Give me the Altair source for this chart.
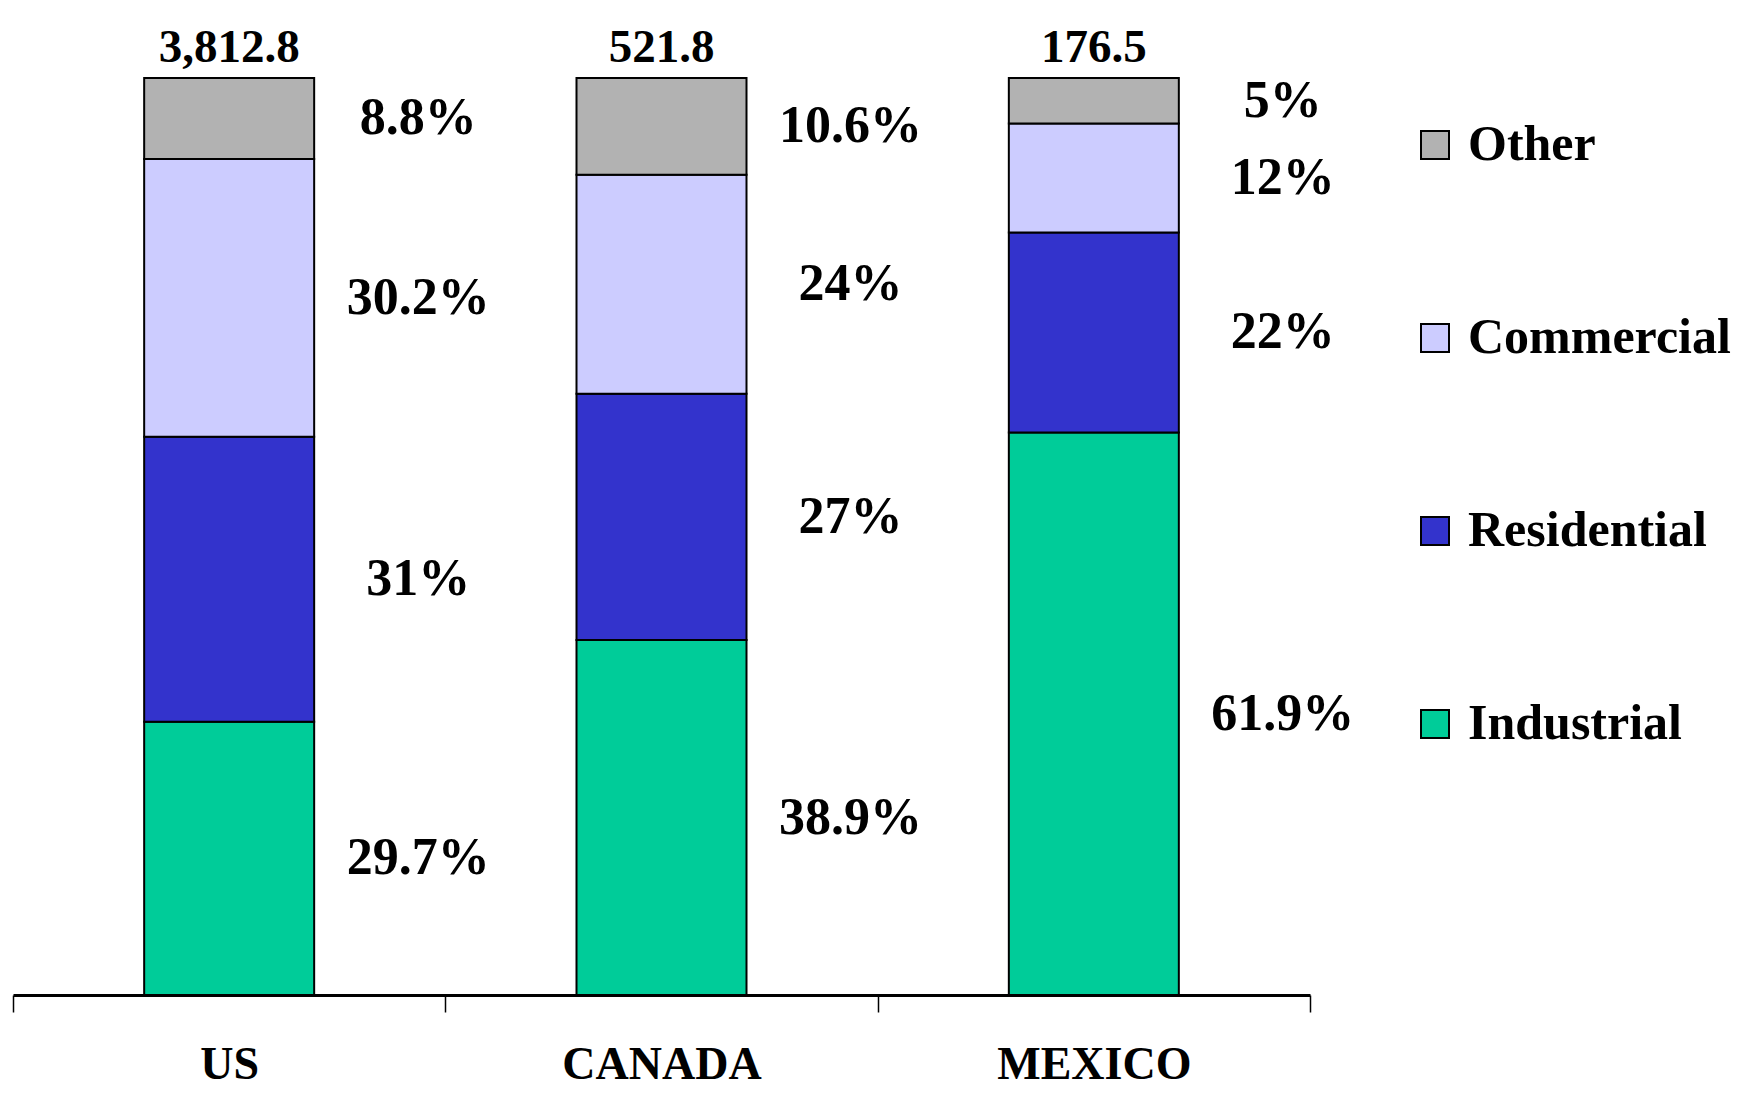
import altair as alt
import pandas as pd

countries = ["US", "CANADA", "MEXICO"]
totals = [3812.8, 521.8, 176.5]
sectors = ["Industrial", "Residential", "Commercial", "Other"]
industrial = [29.7, 38.9, 61.9]
residential = [31, 27, 22]
commercial = [30.2, 24, 12]
other = [8.8, 10.6, 5]
colors = ["#00CC99", "#3333CC", "#CCCCFF", "#B2B2B2"]

rows = []
for i, c in enumerate(countries):
    for k, (s, vals) in enumerate(zip(sectors, [industrial, residential, commercial, other])):
        rows.append({"country": c, "sector": s, "pct": vals[i], "order": k, "total": totals[i]})
df = pd.DataFrame(rows)
tot_df = pd.DataFrame({"country": countries, "total": totals})

FONT = "Liberation Serif"

x = alt.X("country:N", sort=countries, title=None,
          scale=alt.Scale(paddingInner=0, paddingOuter=0),
          axis=alt.Axis(labelAngle=0, labelFont=FONT, labelFontWeight="bold",
                        labelFontSize=46, labelColor="black", labelPadding=30,
                        labelLimit=0,
                        domainColor="black", domainWidth=3, tickColor="black",
                        tickWidth=1.5, tickSize=17, tickBand="extent", grid=False))

base = alt.Chart(df).transform_stack(
    stack="pct", groupby=["country"], as_=["y0", "y1"],
    sort=[alt.SortField("order", order="ascending")], offset="normalize"
).transform_calculate(mid="(datum.y0 + datum.y1) / 2", label="datum.pct + '%'")

bars = base.mark_bar(size=170, stroke="black", strokeWidth=2).encode(
    x=x,
    y=alt.Y("y0:Q", scale=alt.Scale(domain=[0, 1]), axis=None),
    y2="y1:Q",
    color=alt.Color("sector:N",
                    scale=alt.Scale(domain=sectors[::-1], range=colors[::-1]),
                    legend=alt.Legend(title=None, orient="none", legendX=1397, legendY=42,
                                      symbolType="square", symbolSize=784,
                                      symbolStrokeColor="black", symbolStrokeWidth=2,
                                      labelFont=FONT, labelFontWeight="bold",
                                      labelFontSize=50, labelColor="black",
                                      labelOffset=8, rowPadding=143, padding=0,
                                      labelLimit=400)),
)

pct_text = base.mark_text(font=FONT, fontWeight="bold", fontSize=52, color="black",
                          dx=189, align="center", baseline="middle").encode(
    x=alt.X("country:N", sort=countries),
    y=alt.Y("mid:Q"),
    text="label:N",
)

tot_text = alt.Chart(tot_df).mark_text(font=FONT, fontWeight="bold", fontSize=47,
                                       color="black", baseline="bottom", dy=-6).encode(
    x=alt.X("country:N", sort=countries),
    y=alt.datum(1),
    text=alt.Text("total:Q", format=",.1f"),
)

chart = alt.layer(bars, pct_text, tot_text).properties(
    width=1297, height=917,
    padding={"left": 5, "top": 70, "right": 430, "bottom": 100},
    autosize="none",
    background="white",
).configure_view(stroke=None)

chart.save("out.html", embed_options={"renderer": "svg", "actions": False})
